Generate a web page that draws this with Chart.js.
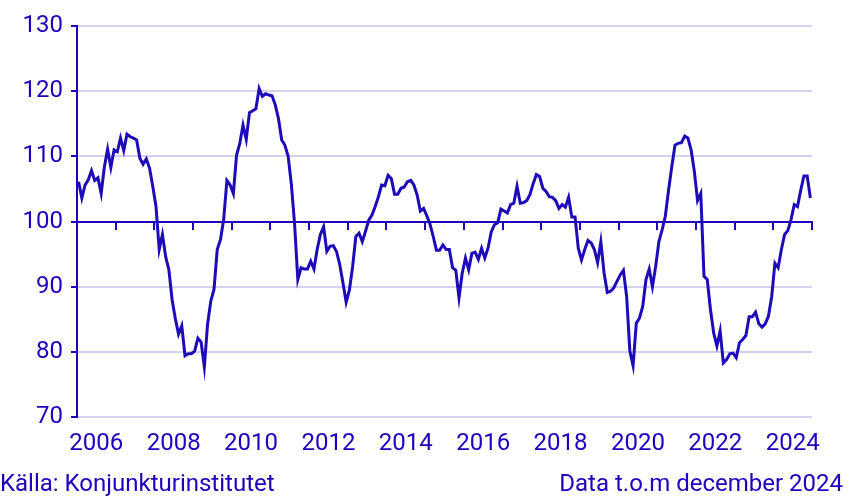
<!DOCTYPE html>
<html>
<head>
<meta charset="utf-8">
<script src="https://cdn.jsdelivr.net/npm/chart.js@4.4.1/dist/chart.umd.min.js"></script>
<style>
  html, body { margin: 0; padding: 0; background: #ffffff; }
  #wrap { position: relative; width: 851px; height: 501px; overflow: hidden; }
  #c { position: absolute; left: 0; top: 0; }
  .foot { position: absolute; top: 469px; font-family: Roboto, sans-serif; font-size: 24px; line-height: 28px; color: #1e00be; white-space: nowrap; }
  #src { left: 0px; }
  #upd { right: 8px; }
</style>
</head>
<body>
<div id="wrap">
  <canvas id="c" width="851" height="501"></canvas>
  <div class="foot" id="src">Källa: Konjunkturinstitutet</div>
  <div class="foot" id="upd">Data t.o.m december 2024</div>
</div>
<script>
// Monthly index values, January 2006 – December 2024
const firstYear = 2006;
const yearLabels = ['2006','2008','2010','2012','2014','2016','2018','2020','2022','2024'];
const yTicks = [70, 80, 90, 100, 110, 120, 130];
const values2006 = [106.1, 103.6, 105.6, 106.4, 107.8, 106.3, 106.7, 104.3, 108.4, 111.1, 108.3, 111.0];
const values2007 = [110.7, 112.8, 110.9, 113.4, 113.0, 112.8, 112.5, 109.7, 108.8, 109.6, 108.2, 105.4];
const values2008 = [102.3, 95.7, 98.0, 94.6, 92.6, 88.0, 85.1, 82.7, 84.0, 79.4, 79.7, 79.7];
const values2009 = [80.1, 82.1, 81.5, 77.7, 84.2, 87.8, 89.6, 95.7, 97.2, 100.3, 106.3, 105.6];
const values2010 = [104.3, 110.2, 112.0, 114.8, 112.6, 116.7, 117.0, 117.3, 120.4, 119.2, 119.6, 119.4];
const values2011 = [119.3, 117.9, 115.8, 112.5, 111.7, 110.0, 105.7, 99.6, 91.1, 92.9, 92.7, 92.7];
const values2012 = [93.9, 92.7, 95.7, 98.0, 99.2, 95.4, 96.2, 96.3, 95.4, 93.4, 90.6, 87.6];
const values2013 = [89.5, 93.1, 97.7, 98.2, 96.9, 98.5, 100.2, 101.0, 102.3, 103.8, 105.6, 105.5];
const values2014 = [107.1, 106.6, 104.2, 104.2, 105.1, 105.3, 106.1, 106.3, 105.6, 104.1, 101.6, 102.0];
const values2015 = [100.9, 99.6, 97.7, 95.6, 95.6, 96.4, 95.7, 95.7, 92.9, 92.5, 88.3, 92.1];
const values2016 = [94.4, 92.6, 95.1, 95.3, 94.2, 95.9, 94.4, 95.9, 98.4, 99.5, 99.8, 101.9];
const values2017 = [101.6, 101.3, 102.6, 102.8, 105.4, 102.8, 102.9, 103.2, 104.1, 105.8, 107.2, 106.9];
const values2018 = [105.1, 104.6, 103.8, 103.7, 103.2, 102.0, 102.6, 102.2, 103.7, 100.7, 100.7, 95.9];
const values2019 = [94.1, 95.7, 97.1, 96.7, 95.7, 93.7, 96.9, 92.1, 89.1, 89.3, 89.8, 90.8];
const values2020 = [91.8, 92.5, 88.5, 80.1, 77.9, 84.4, 85.2, 87.0, 91.1, 92.7, 90.0, 93.1];
const values2021 = [96.9, 98.7, 100.8, 104.8, 108.4, 111.7, 112.0, 112.1, 113.1, 112.8, 111.0, 107.7];
const values2022 = [103.2, 104.3, 91.6, 91.1, 86.5, 82.9, 80.9, 83.2, 78.3, 78.8, 79.7, 79.8];
const values2023 = [79.1, 81.4, 81.9, 82.5, 85.4, 85.4, 86.1, 84.3, 83.8, 84.3, 85.5, 88.5];
const values2024 = [93.6, 92.9, 95.7, 98.0, 98.6, 100.3, 102.6, 102.3, 104.8, 107.0, 107.0, 103.6];

const allValues = [].concat(values2006, values2007, values2008, values2009, values2010,
  values2011, values2012, values2013, values2014, values2015, values2016, values2017,
  values2018, values2019, values2020, values2021, values2022, values2023, values2024);
const nMonths = allValues.length; // 228
// x in months since Jan 2006, each point placed mid-month
const points = allValues.map((v, i) => ({ x: i + 0.5, y: v }));

const BLUE = '#1e00be';
const LINE = '#1d0ab8';
const GRID = '#d3d1ef';
const FONT = { family: 'Roboto, sans-serif', size: 24 };

new Chart(document.getElementById('c'), {
  type: 'line',
  data: {
    datasets: [{
      data: points,
      borderColor: LINE,
      borderWidth: 3,
      pointRadius: 0,
      tension: 0,
      fill: false
    }]
  },
  options: {
    responsive: false,
    animation: false,
    events: [],
    layout: { padding: { top: 26, right: 39, left: 0, bottom: 0 } },
    plugins: { legend: { display: false }, tooltip: { enabled: false } },
    scales: {
      x: {
        type: 'linear',
        position: 'bottom',
        min: 0,
        max: nMonths,
        grid: { display: false, drawTicks: false },
        border: { display: false },
        afterBuildTicks: (s) => {
          s.ticks = yearLabels.map((lab) => ({ value: (parseInt(lab, 10) - firstYear) * 12 + 6 }));
        },
        afterFit: (s) => { s.height = 84; },
        ticks: {
          color: BLUE,
          font: FONT,
          padding: 13,
          maxRotation: 0,
          autoSkip: false,
          callback: (v) => String(firstYear + Math.round((v - 6) / 12))
        }
      },
      xBase: {
        type: 'linear',
        axis: 'x',
        position: { y: 100 },
        min: 0,
        max: nMonths,
        afterBuildTicks: (s) => {
          const t = [];
          for (let m = 0; m <= nMonths; m += 12) t.push({ value: m });
          s.ticks = t;
        },
        grid: { drawOnChartArea: false, drawTicks: true, tickLength: 7, color: BLUE, lineWidth: 2 },
        border: { display: true, color: BLUE, width: 2 },
        ticks: { display: false }
      },
      y: {
        type: 'linear',
        position: 'left',
        min: 70,
        max: 130,
        afterBuildTicks: (s) => { s.ticks = yTicks.map(v => ({ value: v })); },
        afterFit: (s) => { s.width = 77; },
        grid: { color: GRID, lineWidth: 2, tickColor: BLUE, tickLength: 6, drawTicks: true },
        border: { display: true, color: BLUE, width: 2 },
        ticks: { color: BLUE, font: FONT, padding: 8 }
      }
    }
  }
});
</script>
</body>
</html>
